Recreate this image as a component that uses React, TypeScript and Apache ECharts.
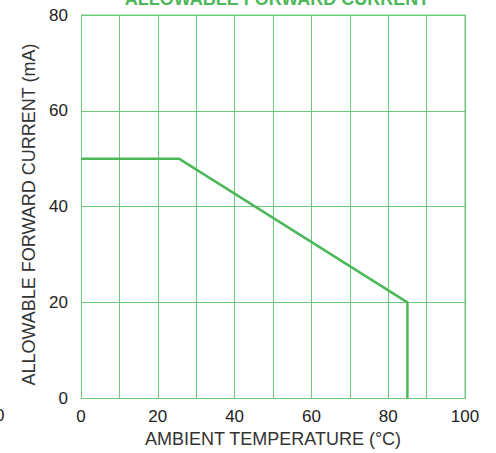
import React, { useEffect, useRef } from "react";
import * as echarts from "echarts";

const temperature = [0, 25.5, 85, 85];
const current = [50, 50, 20, 0];
const xTicks = [0, 20, 40, 60, 80, 100];
const yTicks = [0, 20, 40, 60, 80];

const FONT = "'Liberation Sans', Arial, Helvetica, sans-serif";
const GRID_GREEN = "#6cc97a";
const LINE_GREEN = "#4cb85a";

export default function App() {
  const ref = useRef<HTMLDivElement>(null);
  useEffect(() => {
    if (!ref.current) return;
    const chart = echarts.init(ref.current, null, { renderer: "svg" });
    chart.setOption({
      animation: false,
      backgroundColor: "#ffffff",
      title: {
        text: "ALLOWABLE FORWARD CURRENT",
        left: 272,
        textAlign: "center",
        top: -15,
        textStyle: { color: "#4cb85a", fontSize: 18, fontWeight: "bold", fontFamily: FONT },
      },
      grid: { left: 81, right: 31, top: 15, bottom: 54 },
      xAxis: {
        type: "value",
        min: 0,
        max: 100,
        interval: 10,
        name: "AMBIENT TEMPERATURE (°C)",
        nameLocation: "middle",
        nameGap: 30,
        nameTextStyle: { color: "#333333", fontSize: 18, fontFamily: FONT },
        axisLine: { show: true, lineStyle: { color: GRID_GREEN, width: 1 } },
        axisTick: { show: false },
        splitLine: { show: true, lineStyle: { color: GRID_GREEN, width: 1 } },
        axisLabel: {
          color: "#222222",
          fontSize: 17,
          fontFamily: FONT,
          margin: 10,
          formatter: (v: number) => (xTicks.includes(v) ? String(v) : ""),
        },
      },
      yAxis: {
        type: "value",
        min: 0,
        max: 80,
        interval: 20,
        name: "ALLOWABLE FORWARD CURRENT (mA)",
        nameLocation: "middle",
        nameGap: 42,
        nameTextStyle: { color: "#333333", fontSize: 18, fontFamily: FONT, padding: [0, 0, 0, -16] },
        axisLine: { show: true, lineStyle: { color: GRID_GREEN, width: 1 } },
        axisTick: { show: false },
        splitLine: { show: true, lineStyle: { color: GRID_GREEN, width: 1 } },
        axisLabel: {
          color: "#222222",
          fontSize: 17,
          fontFamily: FONT,
          margin: 13,
          padding: [0, 0, 8, 0],
          formatter: (v: number) => (yTicks.includes(v) ? String(v) : ""),
        },
      },
      graphic: [
        {
          type: "text",
          left: -5,
          top: 407,
          style: { text: "0", fill: "#222222", fontSize: 17, fontFamily: FONT },
        },
        {
          type: "line",
          shape: { x1: 465, y1: 15, x2: 465, y2: 399 },
          style: { stroke: GRID_GREEN, lineWidth: 1 },
        },
        {
          type: "line",
          shape: { x1: 81, y1: 15, x2: 465, y2: 15 },
          style: { stroke: GRID_GREEN, lineWidth: 1 },
        },
      ],
      series: [
        {
          type: "line",
          data: temperature.map((t, i) => [t, current[i]]),
          symbol: "none",
          lineStyle: { color: LINE_GREEN, width: 2.5 },
          z: 5,
        },
      ],
    });
    return () => chart.dispose();
  }, []);
  return <div ref={ref} style={{ width: 496, height: 453, position: "absolute", left: 0, top: 0 }} />;
}
